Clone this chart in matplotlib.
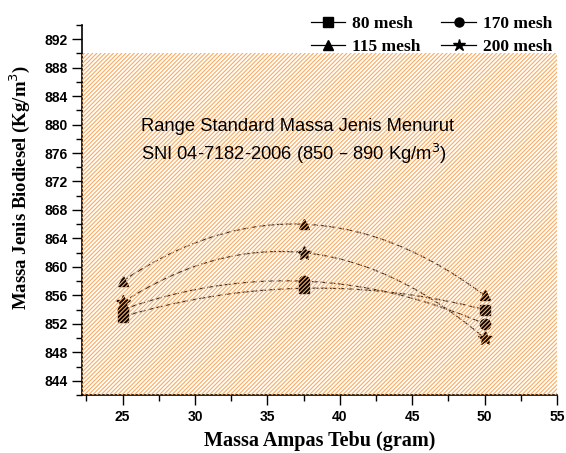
import numpy as np
import matplotlib
matplotlib.use('Agg')
import matplotlib.pyplot as plt
from matplotlib.patches import Rectangle
from matplotlib.ticker import MultipleLocator

# data
massa_ampas = [25, 37.5, 50]
mesh_80 = [853, 857, 854]
mesh_170 = [854, 858, 852]
mesh_115 = [858, 866, 856]
mesh_200 = [855, 862, 850]

series = [('80 mesh', mesh_80, 's'),
          ('170 mesh', mesh_170, 'o'),
          ('115 mesh', mesh_115, '^'),
          ('200 mesh', mesh_200, '*')]

sni_low, sni_high = 850, 890

fig = plt.figure(figsize=(5.66, 4.53), dpi=100)
ax = fig.add_axes([0.145, 0.128, 0.839, 0.817])

ax.set_xlim(22.2, 55)
ax.set_ylim(842, 894)

# hatched band for SNI standard range (drawn over the points like the original)
plt.rcParams['hatch.linewidth'] = 0.8
rect = Rectangle((22.2, 842), 55 - 22.2, sni_high - 842, facecolor='none',
                 edgecolor='#fbaa5e', hatch='////////', linewidth=0, zorder=5)
ax.add_patch(rect)

handles = []
for label, vals, mk in series:
    # smooth curve through the three points
    coef = np.polyfit(massa_ampas, vals, 2)
    xs = np.linspace(massa_ampas[0], massa_ampas[-1], 200)
    ax.plot(xs, np.polyval(coef, xs), color='#333333', lw=0.9,
            linestyle=(0, (5, 2)), zorder=3)
    ms = 10 if mk == '*' else 7.5
    ax.plot(massa_ampas, vals, linestyle='none', marker=mk, color='black',
            markersize=ms, zorder=4)
    h, = ax.plot([], [], color='black', lw=0.9, marker=mk, markersize=ms - 1,
                 label=label)
    handles.append(h)

# legend order: 80, 170 on first row; 115, 200 on second
order = [handles[0], handles[2], handles[1], handles[3]]
leg = ax.legend(handles=order, ncol=2, loc='lower right',
                bbox_to_anchor=(1.005, 0.90), frameon=False,
                prop={'family': 'Liberation Serif', 'weight': 'bold', 'size': 12.5},
                handlelength=2.0, handletextpad=0.4, columnspacing=1.2,
                labelspacing=0.4, borderaxespad=0)

ax.text(26.3, 880.9,
        'Range Standard Massa Jenis Menurut\nSNI 04-7182-2006 (850 \u2013 890 Kg/m$^3$)',
        family='Liberation Sans', fontsize=13.2, va='top', ha='left',
        linespacing=1.4, zorder=6)

ax.spines['top'].set_visible(False)
ax.spines['right'].set_visible(False)
ax.spines['left'].set_linewidth(1.2)
ax.spines['bottom'].set_linewidth(1.2)

ax.xaxis.set_major_locator(MultipleLocator(5))
ax.xaxis.set_minor_locator(MultipleLocator(2.5))
ax.yaxis.set_major_locator(MultipleLocator(4))
ax.yaxis.set_minor_locator(MultipleLocator(2))
ax.set_xticks(np.arange(25, 56, 5))
ax.set_yticks(np.arange(844, 893, 4))
ax.tick_params(which='major', direction='out', length=7, width=1)
ax.tick_params(which='minor', direction='out', length=4, width=1)
for lab in ax.get_xticklabels() + ax.get_yticklabels():
    lab.set_fontfamily('Liberation Sans')
    lab.set_fontweight('bold')
    lab.set_fontsize(10)

ax.set_xlabel('Massa Ampas Tebu (gram)', family='Liberation Serif',
              weight='bold', fontsize=14.5, labelpad=5)
ax.set_ylabel('Massa Jenis Biodiesel (Kg/m$^3$)', family='Liberation Serif',
              weight='bold', fontsize=13.5)
ax.yaxis.set_label_coords(-0.105, 0.56)

fig.savefig('out.png', dpi=100)
